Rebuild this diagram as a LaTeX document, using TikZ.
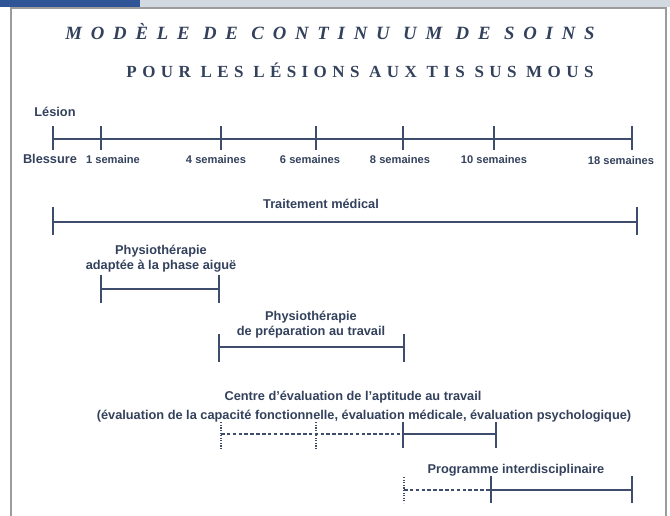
\documentclass[tikz,border=0pt]{standalone}
\usepackage{fontspec}
\setmainfont{Liberation Sans}
\newfontfamily\titlefont{Liberation Serif}
\usetikzlibrary{positioning}
\usepackage{xcolor}
\definecolor{TabBlue}{HTML}{2F5597}
\definecolor{BandGray}{HTML}{D3D9E1}
\definecolor{FrameGray}{HTML}{9C9C9C}
\definecolor{InkNavy}{HTML}{33415C}
\definecolor{BarSlate}{HTML}{3D4D6B}

\begin{document}
\begin{tikzpicture}[
  x=0.03cm, y=-0.03cm,
  label/.style={text=InkNavy, font=\fontsize{10.9}{12.8}\selectfont\bfseries, align=center, inner sep=0pt},
  weeklabel/.style={text=InkNavy, font=\fontsize{9.5}{11}\selectfont\bfseries, inner sep=0pt},
  bar/.style={BarSlate, line width=1.5pt},
  planned/.style={BarSlate, line width=0.9pt, dash pattern=on 3pt off 2pt},
  dotstub/.style={BarSlate, line width=1.3pt, dash pattern=on 1pt off 1.2pt}
]
  \useasboundingbox (0,0) rectangle (670,516);
  % bandeau et cadre
  \fill[BandGray] (0,0) rectangle (670,7);
  \fill[TabBlue] (0,0) rectangle (140,7);
  \draw[FrameGray, line width=1.4pt] (11,520) -- (11,8) -- (666,8) -- (666,520);

  % titres
  \node[text=InkNavy, font=\titlefont\fontsize{16}{18}\selectfont\bfseries\itshape\addfontfeature{LetterSpace=47}] (title) at (330,32) {MODÈLE DE CONTINU UM DE SOINS};
  \node[text=InkNavy, font=\titlefont\fontsize{14.5}{16}\selectfont\bfseries\addfontfeature{LetterSpace=32}] (subtitle) at (360,70) {POUR LES LÉSIONS AUX TIS SUS MOUS};

  % echelle des semaines
  \coordinate (w0) at (53,139);
  \coordinate (w1) at (101,139);
  \coordinate (w4) at (221,139);
  \coordinate (w6) at (316,139);
  \coordinate (w8) at (403,139);
  \coordinate (w10) at (494,139);
  \coordinate (w18) at (632,139);
  \draw[bar] (w0) -- (w18);
  \draw[bar] ([yshift=11pt]w0) -- ([yshift=-9pt]w0);
  \draw[bar] ([yshift=11pt]w1) -- ([yshift=-9pt]w1);
  \draw[bar] ([yshift=11pt]w4) -- ([yshift=-9pt]w4);
  \draw[bar] ([yshift=11pt]w6) -- ([yshift=-9pt]w6);
  \draw[bar] ([yshift=11pt]w8) -- ([yshift=-9pt]w8);
  \draw[bar] ([yshift=11pt]w10) -- ([yshift=-9pt]w10);
  \draw[bar] ([yshift=11pt]w18) -- ([yshift=-9pt]w18);
  \node[label] (lesion) at (55,112) {Lésion};
  \node[label] (blessure) at (50,159) {Blessure};
  \node[weeklabel] (s1) at (113,160) {1 semaine};
  \node[weeklabel] (s4) at (216,160) {4 semaines};
  \node[weeklabel] (s6) at (310,160) {6 semaines};
  \node[weeklabel] (s8) at (400,160) {8 semaines};
  \node[weeklabel] (s10) at (494,160) {10 semaines};
  \node[weeklabel] (s18) at (621,161) {18 semaines};

  % traitement medical
  \node[label] (medical) at (321,204) {Traitement médical};
  \coordinate (med0) at (53,222);
  \coordinate (med1) at (637,222);
  \draw[bar] (med0) -- (med1);
  \draw[bar] ([yshift=13pt]med0) -- ([yshift=-11pt]med0);
  \draw[bar] ([yshift=13pt]med1) -- ([yshift=-11pt]med1);

  % physiotherapie phase aigue
  \node[label] (acute) at (161,259) {Physiothérapie\\adaptée à la phase aiguë};
  \coordinate (ac0) at (101,289);
  \coordinate (ac1) at (219,289);
  \draw[bar] (ac0) -- (ac1);
  \draw[bar] ([yshift=12pt]ac0) -- ([yshift=-12pt]ac0);
  \draw[bar] ([yshift=12pt]ac1) -- ([yshift=-12pt]ac1);

  % physiotherapie preparation au travail
  \node[label] (prep) at (311,325) {Physiothérapie\\de préparation au travail};
  \coordinate (pr0) at (219,347);
  \coordinate (pr1) at (404,347);
  \draw[bar] (pr0) -- (pr1);
  \draw[bar] ([yshift=11pt]pr0) -- ([yshift=-13pt]pr0);
  \draw[bar] ([yshift=11pt]pr1) -- ([yshift=-13pt]pr1);

  % centre d'evaluation
  \node[label] (centre) at (353,397) {Centre d'évaluation de l'aptitude au travail};
  \node[label] (evals) at (364,416) {(évaluation de la capacité fonctionnelle, évaluation médicale, évaluation psychologique)};
  \coordinate (ev0) at (221,434);
  \coordinate (ev1) at (316,434);
  \coordinate (ev2) at (403,434);
  \coordinate (ev3) at (496,434);
  \draw[planned] (ev0) -- (ev2);
  \draw[dotstub] ([yshift=10pt]ev0) -- ([yshift=-13pt]ev0);
  \draw[dotstub] ([yshift=10pt]ev1) -- ([yshift=-13pt]ev1);
  \draw[bar] (ev2) -- (ev3);
  \draw[bar] ([yshift=10pt]ev2) -- ([yshift=-12pt]ev2);
  \draw[bar] ([yshift=10pt]ev3) -- ([yshift=-12pt]ev3);

  % programme interdisciplinaire
  \node[label] (program) at (516,470) {Programme interdisciplinaire};
  \coordinate (pg0) at (404,490);
  \coordinate (pg1) at (491,490);
  \coordinate (pg2) at (632,490);
  \draw[planned] (pg0) -- (pg1);
  \draw[dotstub] ([yshift=11pt]pg0) -- ([yshift=-11pt]pg0);
  \draw[bar] (pg1) -- (pg2);
  \draw[bar] ([yshift=12pt]pg1) -- ([yshift=-11pt]pg1);
  \draw[bar] ([yshift=12pt]pg2) -- ([yshift=-11pt]pg2);
\end{tikzpicture}
\end{document}
